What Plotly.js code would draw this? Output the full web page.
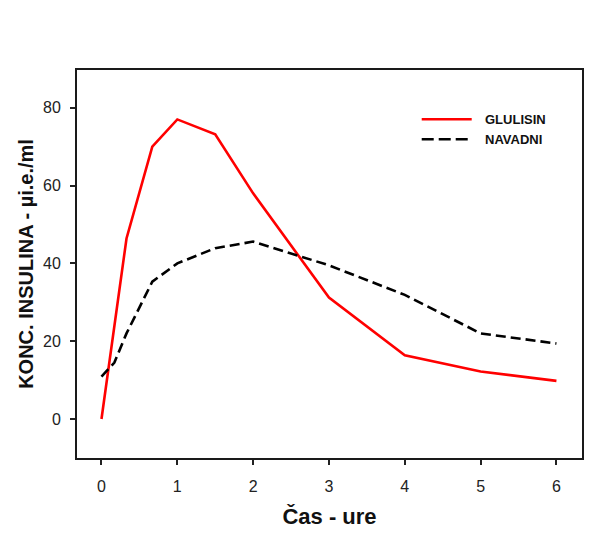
<!DOCTYPE html>
<html>
<head>
<meta charset="utf-8">
<script src="https://cdn.plot.ly/plotly-3.0.1.min.js"></script>
<style>
  html, body { margin: 0; padding: 0; background: #fff; }
  #chart { width: 603px; height: 536px; }
</style>
</head>
<body>
<div id="chart"></div>
<script>
// Data
const seriesNames = ["GLULISIN", "NAVADNI"];
const glulisinTime = [0, 0.33, 0.67, 1, 1.5, 2, 3, 4, 5, 6];
const glulisinConc = [0, 46.4, 70, 77, 73.2, 58, 31.2, 16.4, 12.2, 9.8];
const navadniTime = [0, 0.17, 0.33, 0.67, 1, 1.5, 2, 3, 4, 5, 6];
const navadniConc = [10.9, 14.5, 22, 35.3, 40, 43.9, 45.6, 39.5, 31.9, 22, 19.4];
const xTickVals = [0, 1, 2, 3, 4, 5, 6];
const yTickVals = [0, 20, 40, 60, 80];
const xTitle = "Čas - ure";
const yTitle = "KONC. INSULINA - µi.e./ml";

const FONT = "'Liberation Sans', Arial, sans-serif";

const traces = [
  {
    x: glulisinTime, y: glulisinConc, name: seriesNames[0],
    type: "scatter", mode: "lines",
    line: { color: "#ff0000", width: 2.6 },
    showlegend: false
  },
  {
    x: navadniTime, y: navadniConc, name: seriesNames[1],
    type: "scatter", mode: "lines",
    line: { color: "#000000", width: 2.6, dash: "10px,5px" },
    showlegend: false
  }
];

// manual legend (paper coordinates)
const legX0 = 0.6826, legX1 = 0.7816, legTextX = 0.8034;
const legY = [0.873, 0.8214];

const layout = {
  width: 603, height: 536,
  margin: { l: 77, r: 21, t: 70, b: 78, pad: 0 },
  paper_bgcolor: "#ffffff",
  plot_bgcolor: "#ffffff",
  font: { family: FONT, color: "#222222", size: 16 },
  showlegend: false,
  xaxis: {
    range: [-0.323, 6.337],
    tickvals: xTickVals,
    ticks: "outside", ticklen: 5, tickwidth: 2, tickcolor: "#222",
    ticklabelstandoff: 8,
    tickfont: { family: FONT, size: 16, color: "#222" },
    showgrid: false, zeroline: false,
    showline: true, linecolor: "#1a1a1a", linewidth: 2, mirror: true,
    title: { text: xTitle, font: { family: FONT, size: 22, color: "#111", weight: "bold" }, standoff: 14 }
  },
  yaxis: {
    range: [-10.02, 89.7],
    tickvals: yTickVals,
    ticks: "outside", ticklen: 5, tickwidth: 2, tickcolor: "#222",
    ticklabelstandoff: 6,
    tickfont: { family: FONT, size: 16, color: "#222" },
    showgrid: false, zeroline: false,
    showline: true, linecolor: "#1a1a1a", linewidth: 2, mirror: true,
    title: { text: yTitle, font: { family: FONT, size: 20, color: "#111", weight: "bold" }, standoff: 4 }
  },
  shapes: [
    { type: "line", xref: "paper", yref: "paper", x0: legX0, x1: legX1, y0: legY[0], y1: legY[0],
      line: { color: "#ff0000", width: 2.6 } },
    { type: "line", xref: "paper", yref: "paper", x0: legX0, x1: legX1, y0: legY[1], y1: legY[1],
      line: { color: "#000000", width: 2.6, dash: "12px,5px" } }
  ],
  annotations: [
    { xref: "paper", yref: "paper", x: legTextX, y: legY[0], text: seriesNames[0], showarrow: false,
      xanchor: "left", yanchor: "middle", font: { family: FONT, size: 13, color: "#111", weight: "bold" } },
    { xref: "paper", yref: "paper", x: legTextX, y: legY[1], text: seriesNames[1], showarrow: false,
      xanchor: "left", yanchor: "middle", font: { family: FONT, size: 13, color: "#111", weight: "bold" } }
  ]
};

Plotly.newPlot("chart", traces, layout, { displayModeBar: false, staticPlot: true });
</script>
</body>
</html>
